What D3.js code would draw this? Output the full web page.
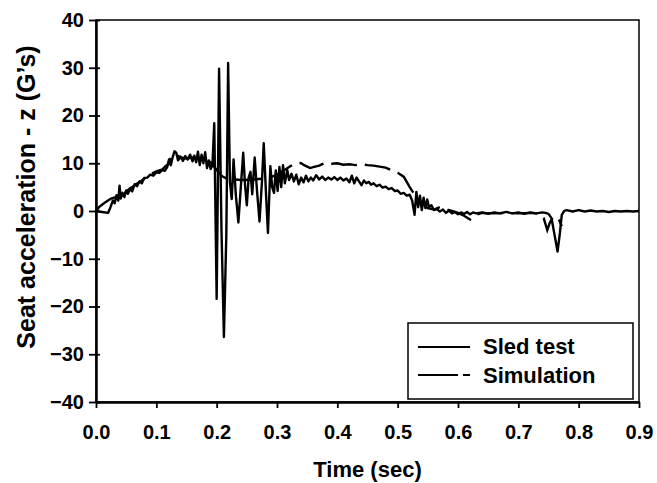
<!DOCTYPE html>
<html>
<head>
<meta charset="utf-8">
<script src="https://cdn.jsdelivr.net/npm/d3@7"></script>
<style>
  html, body { margin: 0; padding: 0; background: #fff; overflow: hidden; }
  svg { display: block; }
  text { font-family: "Liberation Sans", Arial, sans-serif; font-weight: bold; fill: #000; }
</style>
</head>
<body>
<svg></svg>
<script>
// sled test record [time (s), accel (G)]
const sledTest = [
  [0,0],[0.01,-0.2],[0.02,-0.4],[0.024,0.8],[0.028,2.2],[0.031,1.6],[0.034,3.3],[0.037,2.2],[0.039,5.3],[0.041,2.6],
  [0.044,3.8],[0.047,2.9],[0.05,4.3],[0.053,3.6],[0.056,4.6],[0.06,4.1],[0.064,5.6],[0.068,5.2],[0.072,6.2],[0.076,5.8],
  [0.08,6.9],[0.085,7.0],[0.09,7.6],[0.095,7.4],[0.1,8.1],[0.105,8.0],[0.11,8.6],[0.114,8.4],[0.118,9.2],[0.121,10.8],
  [0.124,9.6],[0.127,11.2],[0.13,12.5],[0.133,12.2],[0.136,10.6],[0.14,11.4],[0.144,10.5],[0.148,11.5],[0.152,10.8],[0.156,11.8],
  [0.16,10.4],[0.163,11.6],[0.166,10.2],[0.169,12.4],[0.172,9.6],[0.175,11.8],[0.178,10.0],[0.181,12.3],[0.184,9.0],[0.187,10.6],
  [0.19,8.8],[0.193,9.6],[0.196,18.4],[0.2,-18.4],[0.204,29.8],[0.208,-4],[0.212,-26.4],[0.216,-5],[0.219,31],[0.222,6],
  [0.225,2.5],[0.228,10.8],[0.232,3],[0.236,-2.4],[0.24,5],[0.244,12.2],[0.247,5.5],[0.25,1.2],[0.253,7],[0.256,8.2],
  [0.259,3.5],[0.263,11.2],[0.267,4],[0.271,-2.2],[0.275,6],[0.278,14.2],[0.282,3],[0.285,-4.6],[0.289,9.4],[0.292,5],
  [0.295,3.8],[0.298,8.5],[0.301,4.2],[0.304,9.2],[0.307,5],[0.31,9.6],[0.313,5.8],[0.317,8.6],[0.32,6.5],[0.324,7.8],
  [0.328,6.2],[0.332,7.6],[0.336,5.6],[0.34,7.0],[0.344,6.0],[0.348,7.4],[0.352,6.2],[0.356,7.0],[0.36,6.4],[0.365,7.5],
  [0.37,6.6],[0.375,7.2],[0.38,6.5],[0.385,7.0],[0.39,6.6],[0.395,7.1],[0.4,6.5],[0.405,7.0],[0.41,6.4],[0.415,6.8],
  [0.42,6.0],[0.424,7.4],[0.428,5.8],[0.432,7.0],[0.436,6.2],[0.44,5.4],[0.444,6.4],[0.448,5.8],[0.452,6.1],[0.456,5.5],
  [0.46,5.8],[0.465,5.2],[0.47,5.5],[0.475,4.9],[0.48,5.1],[0.485,4.6],[0.49,4.8],[0.495,4.2],[0.5,4.3],[0.505,3.6],
  [0.51,3.8],[0.515,3.2],[0.52,3.4],[0.524,2.2],[0.528,-0.8],[0.531,4.0],[0.534,0.8],[0.537,3.2],[0.54,0.2],[0.543,2.8],
  [0.546,0.6],[0.549,2.4],[0.552,0.8],[0.556,1.2],[0.56,0.2],[0.565,0.4],[0.57,-0.1],[0.575,0.3],[0.58,-0.4],[0.585,0.1],
  [0.59,-0.5],[0.595,-0.2],[0.6,-0.7],[0.605,-0.3],[0.61,-0.6],[0.615,-0.2],[0.62,-0.7],[0.625,-0.3],[0.63,-0.5],[0.64,-0.3],
  [0.65,-0.6],[0.66,-0.3],[0.67,-0.5],[0.68,-0.2],[0.69,-0.5],[0.7,-0.3],[0.71,-0.6],[0.72,-0.3],[0.73,-0.5],[0.74,-0.3],
  [0.745,-0.4],[0.75,-0.6],[0.755,-1.5],[0.76,-5],[0.765,-8.5],[0.769,-4.5],[0.772,-0.8],[0.776,0],[0.78,0.2],[0.79,-0.1],
  [0.8,0.2],[0.81,-0.1],[0.82,0.1],[0.83,-0.1],[0.84,0],[0.85,-0.2],[0.86,0],[0.87,-0.1],[0.88,0],[0.89,-0.1],[0.9,0]
];

// model output [time (s), accel (G)]
const simulation = [
  [0,0],[0.005,0.8],[0.01,1.3],[0.015,1.8],[0.02,2.2],[0.025,2.6],[0.03,2.8],[0.035,3.0],[0.04,3.2],[0.045,3.6],
  [0.05,4.0],[0.055,4.6],[0.06,5.0],[0.065,5.5],[0.07,5.9],[0.075,6.3],[0.08,6.8],[0.085,7.2],[0.09,7.6],[0.095,8.0],
  [0.1,8.3],[0.105,8.5],[0.11,8.7],[0.115,9.4],[0.12,9.8],[0.125,11.4],[0.13,12.0],[0.135,11.6],[0.14,11.2],[0.15,11.0],
  [0.16,11.2],[0.17,10.9],[0.18,10.8],[0.19,10.2],[0.195,9.4],[0.2,8.6],[0.205,7.8],[0.21,7.2],[0.215,6.9],[0.22,6.7],
  [0.23,6.6],[0.24,6.5],[0.25,6.5],[0.26,6.6],[0.27,6.7],[0.28,6.8],[0.29,7.1],[0.3,7.6],[0.31,8.4],[0.32,9.2],
  [0.325,9.6],[0.33,9.8],[0.335,10.1],[0.34,10.0],[0.345,9.6],[0.35,9.3],[0.355,9.0],[0.36,9.2],[0.37,9.5],[0.375,9.8],
  [0.38,10.1],[0.39,9.9],[0.4,10.0],[0.41,9.7],[0.42,9.8],[0.43,9.6],[0.44,9.8],[0.45,9.6],[0.46,9.5],[0.47,9.3],
  [0.48,9.1],[0.49,8.5],[0.5,8.0],[0.51,7.2],[0.52,5.0],[0.53,3.0],[0.54,1.6],[0.55,0.6],[0.56,0.3],[0.57,0.8],
  [0.58,0.4],[0.59,0],[0.6,-0.4],[0.61,-1.0],[0.62,-1.8],[0.625,-1.2],[0.63,-0.8],[0.64,-0.4],[0.66,-0.5],[0.68,-0.4],
  [0.7,-0.5],[0.72,-0.4],[0.735,-0.6],[0.742,-1.5],[0.748,-4],[0.752,-2.5],[0.758,-1.2],[0.764,-1.4],[0.768,-2],[0.772,-3.2]
];

const xTicks = [0, 0.1, 0.2, 0.3, 0.4, 0.5, 0.6, 0.7, 0.8, 0.9];
const yTicks = [-40, -30, -20, -10, 0, 10, 20, 30, 40];
const seriesNames = ['Sled test', 'Simulation'];

const width = 657, height = 483;
const margin = {top: 20, right: 18, bottom: 81, left: 96};
const innerWidth = width - margin.left - margin.right;
const innerHeight = height - margin.top - margin.bottom;

const svg = d3.select('svg')
    .attr('width', width)
    .attr('height', height);

const xScale = d3.scaleLinear().domain([0, 0.9]).range([0, innerWidth]);
const yScale = d3.scaleLinear().domain([-40, 40]).range([innerHeight, 0]);

const g = svg.append('g')
    .attr('transform', `translate(${margin.left},${margin.top})`);

// frame
g.append('rect')
    .attr('width', innerWidth)
    .attr('height', innerHeight)
    .attr('fill', 'none')
    .attr('stroke', '#000')
    .attr('stroke-width', 1.5);

const xAxisG = g.append('g')
    .attr('transform', `translate(0,${innerHeight})`)
    .call(d3.axisBottom(xScale).tickValues(xTicks).tickFormat(d3.format('.1f'))
        .tickSizeInner(6).tickSizeOuter(0).tickPadding(17));
xAxisG.select('.domain').attr('stroke-width', 2.5);
xAxisG.selectAll('.tick line').attr('stroke-width', 1.8);
xAxisG.selectAll('text').style('font-size', '20px');

const yAxisG = g.append('g')
    .call(d3.axisLeft(yScale).tickValues(yTicks)
        .tickSizeInner(7).tickSizeOuter(0).tickPadding(5));
yAxisG.select('.domain').attr('stroke-width', 2.5);
yAxisG.selectAll('.tick line').attr('x1', 4).attr('stroke-width', 1.8);
yAxisG.selectAll('text').style('font-size', '20px');

xAxisG.append('text')
    .attr('x', innerWidth / 2)
    .attr('y', 75)
    .attr('text-anchor', 'middle')
    .style('font-size', '22px')
    .text('Time (sec)');

yAxisG.append('text')
    .attr('transform', 'rotate(-90)')
    .attr('x', -177)
    .attr('y', -61)
    .attr('text-anchor', 'middle')
    .style('font-size', '25px')
    .text("Seat acceleration - z (G\u2019s)");

const lineGenerator = d3.line()
    .x(d => xScale(d[0]))
    .y(d => yScale(d[1]));

g.append('path')
    .attr('d', lineGenerator(simulation))
    .attr('fill', 'none')
    .attr('stroke', '#000')
    .attr('stroke-width', 2.4)
    .attr('stroke-dasharray', '26,8');

g.append('path')
    .attr('d', lineGenerator(sledTest))
    .attr('fill', 'none')
    .attr('stroke', '#000')
    .attr('stroke-width', 2.4)
    .attr('stroke-linejoin', 'round');

// legend
const legend = svg.append('g').attr('transform', 'translate(408,323)');
legend.append('rect')
    .attr('width', 225)
    .attr('height', 76)
    .attr('fill', '#fff')
    .attr('stroke', '#000')
    .attr('stroke-width', 1.5);
const dashes = [null, '40,5,7'];
seriesNames.forEach((name, i) => {
    legend.append('line')
        .attr('x1', 10).attr('x2', 62)
        .attr('y1', 24 + i * 28).attr('y2', 24 + i * 28)
        .attr('stroke', '#000')
        .attr('stroke-width', 2.2)
        .attr('stroke-dasharray', dashes[i]);
    legend.append('text')
        .attr('x', 75)
        .attr('y', 31 + i * 29)
        .style('font-size', '22px')
        .text(name);
});
</script>
</body>
</html>
